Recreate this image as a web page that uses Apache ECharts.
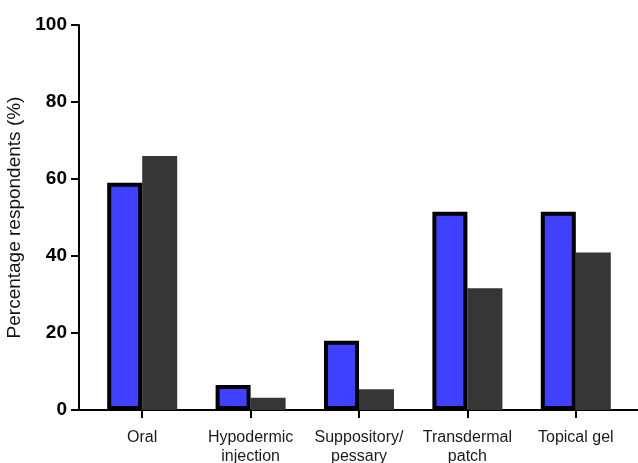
<!DOCTYPE html>
<html>
<head>
<meta charset="utf-8">
<script src="https://cdn.jsdelivr.net/npm/echarts@6/dist/echarts.min.js"></script>
<style>
  html, body { margin: 0; padding: 0; background: #fff; }
  #chart { width: 638px; height: 463px; }
</style>
</head>
<body>
<div id="chart"></div>
<script>
// Delivery routes surveyed
const categories = ['Oral', 'Hypodermic\ninjection', 'Suppository/\npessary', 'Transdermal\npatch', 'Topical gel'];
// Percentage of respondents, first group (blue, outlined)
const groupA = [59, 6.5, 18, 51.5, 51.5];
// Percentage of respondents, second group (dark grey)
const groupB = [66, 3.2, 5.4, 31.6, 40.9];
// Y axis range and step
const yMin = 0, yMax = 100, yStep = 20;

const chart = echarts.init(document.getElementById('chart'), null, { renderer: 'canvas' });

chart.setOption({
  animation: false,
  backgroundColor: '#ffffff',
  grid: [
    { left: 88, right: 8, top: 25, bottom: 53, containLabel: false, outerBoundsMode: 'none' },
    // wider grid used only to carry the baseline across the full width
    { left: 72, right: 0, top: 25, bottom: 53, containLabel: false, outerBoundsMode: 'none' }
  ],
  xAxis: [
    {
      type: 'category',
      gridIndex: 0,
      data: categories,
      axisLine: { show: false },
      axisTick: { show: true, alignWithLabel: true, length: 8, lineStyle: { color: '#000', width: 2 } },
      axisLabel: {
        color: '#1a1a1a', fontFamily: 'Liberation Sans, Arial, sans-serif',
        fontSize: 16, lineHeight: 19, margin: 18, interval: 0
      }
    },
    {
      type: 'value',
      gridIndex: 1,
      min: 0, max: 1,
      axisLine: { show: true, onZero: false, lineStyle: { color: '#000', width: 2 } },
      axisTick: { show: false },
      axisLabel: { show: false },
      splitLine: { show: false }
    }
  ],
  yAxis: [
    {
      type: 'value',
      gridIndex: 0,
      min: yMin, max: yMax, interval: yStep,
      offset: 9,
      name: 'Percentage respondents (%)',
      nameLocation: 'middle',
      nameGap: 47,
      nameTextStyle: {
        color: '#111', fontFamily: 'Liberation Sans, Arial, sans-serif',
        fontSize: 19, fontWeight: 'normal'
      },
      axisLine: { show: true, lineStyle: { color: '#000', width: 2 } },
      axisTick: { show: true, length: 8, lineStyle: { color: '#000', width: 2 } },
      axisLabel: {
        color: '#000', fontFamily: 'Liberation Sans, Arial, sans-serif',
        fontSize: 19, fontWeight: 'bold', margin: 12
      },
      splitLine: { show: false }
    },
    {
      type: 'value',
      gridIndex: 1,
      show: false,
      min: 0, max: 1
    }
  ],
  series: [
    {
      type: 'bar',
      xAxisIndex: 0, yAxisIndex: 0,
      data: groupA,
      barWidth: 35,
      barGap: '0%',
      z: 3,
      itemStyle: { color: '#4040ff', borderColor: '#000', borderWidth: 4 }
    },
    {
      type: 'bar',
      xAxisIndex: 0, yAxisIndex: 0,
      data: groupB,
      barWidth: 35,
      barGap: '0%',
      z: 2,
      itemStyle: { color: '#363636' }
    }
  ]
});
</script>
</body>
</html>
